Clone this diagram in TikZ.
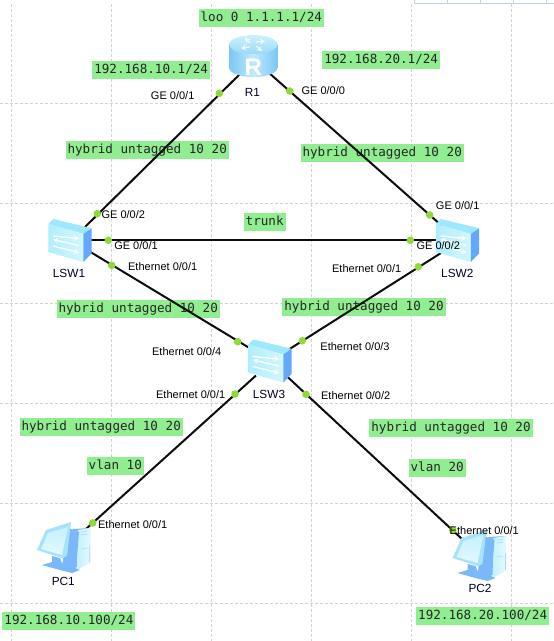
\documentclass[tikz,border=0pt]{standalone}
\usepackage{fontspec}
\setmainfont{Liberation Sans}
\newfontfamily\labmono{DejaVu Sans Mono}
\usetikzlibrary{arrows.meta}
\definecolor{labgreen}{HTML}{90EE90}
\definecolor{dotgreen}{HTML}{8FD93B}
\definecolor{gridgrey}{HTML}{D2D2D2}
\definecolor{tableblue}{HTML}{BBD5EE}
\definecolor{swtop}{HTML}{9DE8FC}
\definecolor{swfrontA}{HTML}{B0EEFD}
\definecolor{swfrontB}{HTML}{D2F7FE}
\definecolor{swside}{HTML}{63A8FA}
\definecolor{rtedge}{HTML}{7CC6F7}
\definecolor{rtmid}{HTML}{BFEAFD}
\definecolor{rttopA}{HTML}{CDF1FD}
\definecolor{rttopB}{HTML}{98DAF9}
\definecolor{pcdark}{HTML}{7AB8FA}
\definecolor{pcmid}{HTML}{A6E2FC}
\definecolor{pclight}{HTML}{E2F9FE}
\definecolor{pcpale}{HTML}{C6F1FD}
\tikzset{
  gridline/.style={draw=gridgrey,line width=0.8pt,dash pattern=on 3pt off 2pt},
  lab/.style={fill=labgreen,font=\labmono\fontsize{12.6}{14}\selectfont,text=black!85,
    inner xsep=2pt,inner ysep=3pt,text height=9.5pt,text depth=2.5pt},
  port/.style={font=\fontsize{11}{12}\selectfont,inner sep=0pt,text=black},
  devname/.style={font=\fontsize{11.8}{12}\selectfont,inner sep=0pt,text=black!85!blue},
  link/.style={draw=black!95,line width=2pt},
  pdot/.style={circle,fill=dotgreen,minimum size=7.6pt,inner sep=0pt},
  arrowwhite/.style={draw=white,line width=1.3pt,-{Stealth[length=5pt,width=5.5pt]}},
  swicon/.pic={
    \fill[swtop] (48.3,224) -- (53.3,219) -- (91.7,228.3) -- (83.3,234) -- cycle;
    \shade[left color=swfrontA,right color=swfrontB] (48.3,224) -- (83.3,234) -- (83.3,262) -- (48.3,252) -- cycle;
    \fill[swside] (83.3,234) -- (91.7,228.3) -- (91.7,253.3) -- (83.3,262) -- cycle;
    \draw[arrowwhite] (53,236) -- (79,238.5);
    \draw[arrowwhite] (79,245.5) -- (53,239.5);
    \draw[arrowwhite] (53,246) -- (79,252.5);
  },
  routericon/.pic={
    \shade[left color=rtedge,right color=rtedge,middle color=rtmid]
      (229.3,44) -- (229.3,68) .. controls (229.3,73) and (240,77) .. (253.3,77)
      .. controls (266.6,77) and (277.3,73) .. (277.3,68) -- (277.3,44) -- cycle;
    \shade[top color=rttopA,bottom color=rttopB]
      (229.3,44.5) .. controls (229.3,39) and (240,35) .. (253.3,35)
      .. controls (266.6,35) and (277.3,39) .. (277.3,44.5)
      .. controls (277.3,50) and (266.6,54) .. (253.3,54)
      .. controls (240,54) and (229.3,50) .. (229.3,44.5) -- cycle;
    \draw[arrowwhite,line width=0.9pt] (250,43) -- (245,38);
    \draw[arrowwhite,line width=0.9pt] (256,42) -- (265,41);
    \draw[arrowwhite,line width=0.9pt] (250,47) -- (241,48);
    \draw[arrowwhite,line width=0.9pt] (256,46) -- (262,51);
  },
  pcicon/.pic={
    \fill[pcdark] (73,529) -- (90,528) -- (90,562) -- (69,570) -- cycle;
    \shade[left color=pcpale,right color=pclight] (78,530) -- (90,528) -- (89.5,563) -- (77,570) -- cycle;
    \draw[pcmid,line width=0.7pt] (81,532) -- (88,531) (81,535) -- (88,534) (81,549) -- (88,548);
    \fill[pcdark] (68,528) -- (79,532) -- (76,570) -- (62,566) -- cycle;
    \fill[pcdark] (42,565) -- (60,570) -- (72,573) -- (80,570) -- (62,563) -- (60,558) -- (52,556) -- (52,562) -- cycle;
    \fill[pcmid] (46,530) -- (71,522) -- (67,556) -- (62,558) -- (37,550) -- cycle;
    \shade[top color=pcpale,bottom color=pclight] (48,533) -- (68,527) -- (62,555) -- (41,549) -- cycle;
  },
}
\begin{document}
\begin{tikzpicture}[x=1pt,y=-1pt]
\useasboundingbox (0,0) rectangle (554,641);
\fill[white] (0,0) rectangle (554,641);
% background grid
\foreach \gx in {11.5,111.5,211.5,311.5,411.5,511.5}
  \draw[gridline] (\gx,4) -- (\gx,641);
\foreach \gy in {103.3,203.3,303.3,403.3,503.3,603.3}
  \draw[gridline] (0,\gy) -- (554,\gy);
\draw[tableblue,line width=0.7pt] (414.3,0) -- (414.3,3) -- (554,3)
  (447.3,0) -- (447.3,3) (480.3,0) -- (480.3,3) (513.3,0) -- (513.3,3) (546.3,0) -- (546.3,3);
% green labels
\node[lab] (l1) at (261.3,18) {loo 0 1.1.1.1/24};
\node[lab] (l2) at (151.2,70) {192.168.10.1/24};
\node[lab] (l3) at (381.2,60) {192.168.20.1/24};
\node[lab] (l4) at (147.2,150) {hybrid untagged 10 20};
\node[lab] (l5) at (382.2,153) {hybrid untagged 10 20};
\node[lab] (l6) at (264.7,222) {trunk};
\node[lab] (l7) at (138.2,309) {hybrid untagged 10 20};
\node[lab] (l8) at (364,307) {hybrid untagged 10 20};
\node[lab] (l9) at (101.2,427) {hybrid untagged 10 20};
\node[lab] (l10) at (451,427.5) {hybrid untagged 10 20};
\node[lab] (l11) at (115.3,466) {vlan 10};
\node[lab] (l12) at (437.2,468) {vlan 20};
\node[lab] (l13) at (68.9,621) {192.168.10.100/24};
\node[lab] (l14) at (482.7,615.5) {192.168.20.100/24};
% connector ends
\coordinate (r1w) at (240,74);
\coordinate (r1e) at (268,72);
\coordinate (s1n) at (85,227);
\coordinate (s1e) at (88,240.3);
\coordinate (s1s) at (88,250.5);
\coordinate (s2n) at (441,225);
\coordinate (s2w) at (440,240.3);
\coordinate (s2s) at (441,253);
\coordinate (s3nw) at (252,349.5);
\coordinate (s3ne) at (288,350);
\coordinate (s3sw) at (256,375.5);
\coordinate (s3se) at (286,375.5);
\coordinate (p1) at (86,529);
\coordinate (p2) at (462,539);
% links
\draw[link] (r1w) -- (s1n);
\draw[link] (r1e) -- (s2n);
\draw[link,line width=2.3pt] (s1e) -- (s2w);
\draw[link] (s1s) -- (s3nw);
\draw[link] (s2s) -- (s3ne);
\draw[link] (s3sw) -- (p1);
\draw[link] (s3se) -- (p2);
% device icons
\pic at (0,0) {routericon};
\pic at (0,0) {swicon};
\pic at (387.5,0) {swicon};
\pic at (200,120.5) {swicon};
\pic at (0,0) {pcicon};
\pic at (415.5,8) {pcicon};
\node[font=\bfseries\fontsize{24}{24}\selectfont,text=white,inner sep=0pt] (rmark) at (253.3,67) {R};
% port dots
\node[pdot] (d1) at (219.3,93.3) {};
\node[pdot] (d2) at (289.7,91) {};
\node[pdot] (d3) at (97.3,213.7) {};
\node[pdot] (d4) at (108.3,240.3) {};
\node[pdot] (d5) at (111.7,265.3) {};
\node[pdot] (d6) at (237.7,341.7) {};
\node[pdot] (d7) at (235,394) {};
\node[pdot] (d8) at (429.7,215) {};
\node[pdot] (d9) at (410.3,240.3) {};
\node[pdot] (d10) at (418.3,266.7) {};
\node[pdot] (d11) at (302.3,340.7) {};
\node[pdot] (d12) at (306,394.3) {};
\node[pdot] (d13) at (92.7,523) {};
\node[pdot] (d14) at (452.7,530) {};
% port labels
\node[port] (t1) at (172.7,96) {GE 0/0/1};
\node[port] (t2) at (323.3,91) {GE 0/0/0};
\node[port] (t3) at (457.7,206) {GE 0/0/1};
\node[port] (t4) at (123.3,215) {GE 0/0/2};
\node[port] (t5) at (136,246) {GE 0/0/1};
\node[port] (t6) at (162.7,267) {Ethernet 0/0/1};
\node[port] (t7) at (186.7,352) {Ethernet 0/0/4};
\node[port] (t8) at (190.7,395) {Ethernet 0/0/1};
\node[port] (t9) at (438.3,246) {GE 0/0/2};
\node[port] (t10) at (366.7,269) {Ethernet 0/0/1};
\node[port] (t11) at (355,347) {Ethernet 0/0/3};
\node[port] (t12) at (355.7,396) {Ethernet 0/0/2};
\node[port] (t13) at (132.7,525) {Ethernet 0/0/1};
\node[port] (t14) at (484.3,531) {Ethernet 0/0/1};
% device names
\node[devname] (nR1) at (252.3,92.7) {R1};
\node[devname] (nS1) at (69,273.7) {LSW1};
\node[devname] (nS2) at (457.3,273.7) {LSW2};
\node[devname] (nS3) at (269,394.5) {LSW3};
\node[devname] (nP1) at (63.3,581.7) {PC1};
\node[devname] (nP2) at (480,588.3) {PC2};
\end{tikzpicture}
\end{document}
